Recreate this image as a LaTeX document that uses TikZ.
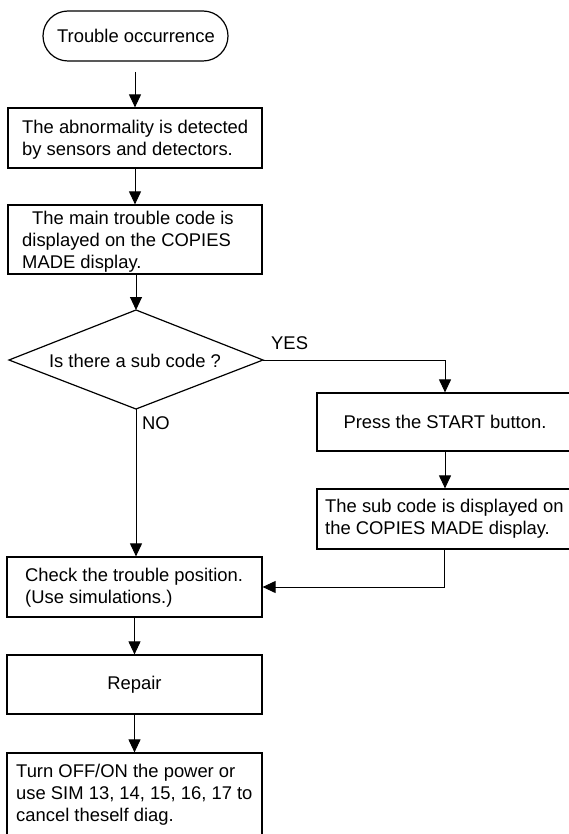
\documentclass[tikz,border=0pt]{standalone}
\usepackage{fontspec}
\setmainfont{Liberation Sans}
\usetikzlibrary{arrows.meta}
\begin{document}
\begin{tikzpicture}[x=1pt,y=-1pt,
  box/.style={draw,line width=1.2pt,inner sep=0pt},
  txt/.style={font=\fontsize{18.4}{22}\selectfont,inner sep=0pt,align=left},
  lbl/.style={font=\fontsize{18.4}{22}\selectfont,inner sep=0pt},
  flow/.style={line width=1pt,-{Triangle[length=13pt,width=12pt]}},
  plain/.style={line width=1.2pt}]
\useasboundingbox (0,0) rectangle (569,834);
\clip (0,0) rectangle (569,834);
% terminal
\node[box,rounded corners=25pt,minimum width=185,minimum height=50] (term) at (135.5,36) {};
\node[lbl] (termt) at (136,36) {Trouble occurrence};
% box 1
\node[box,minimum width=254,minimum height=60] (b1) at (135,138) {};
\node[txt,anchor=west] (b1t) at (22,140) {The abnormality is detected\\by sensors and detectors.};
% box 2
\node[box,minimum width=254,minimum height=69] (b2) at (135,239.5) {};
\node[txt,anchor=west] (b2t) at (22,242) {\hspace{10pt}The main trouble code is\\displayed on the COPIES\\MADE display.};
% diamond
\coordinate (dN) at (136,310);
\coordinate (dS) at (136,409);
\coordinate (dW) at (9,360);
\coordinate (dE) at (263,360);
\draw[plain] (dN) -- (dE) -- (dS) -- (dW) -- cycle;
\node[lbl] (dt) at (135,361) {Is there a sub code ?};
\node[lbl,anchor=west] (yes) at (271,343) {YES};
\node[lbl,anchor=west] (no) at (142,423) {NO};
% right boxes
\node[box,minimum width=256,minimum height=58] (press) at (445,422) {};
\node[lbl] (presst) at (445,422) {Press the START button.};
\node[box,minimum width=256,minimum height=60] (sub) at (445,519) {};
\node[txt,anchor=west] (subt) at (325,519) {The sub code is displayed on\\the COPIES MADE display.};
% check
\node[box,minimum width=255,minimum height=60] (chk) at (134.5,587) {};
\node[txt,anchor=west] (chkt) at (25,588) {Check the trouble position.\\(Use simulations.)};
% repair
\node[box,minimum width=255,minimum height=59] (rep) at (134.5,684.5) {};
\node[lbl] (rept) at (134.5,685) {Repair};
% final
\node[box,minimum width=255,minimum height=100] (fin) at (134.5,803) {};
\node[txt,anchor=west] (fint) at (16,795) {Turn OFF/ON the power or\\use SIM 13, 14, 15, 16, 17 to\\cancel theself diag.};
% connectors
\coordinate (tstart) at (135,72);
\draw[flow] (tstart) -- (b1.north);
\draw[flow] (b1.south) -- (b2.north);
\draw[flow] (b2.south -| dN) -- (dN);
\draw[flow] (dS) -- (dS |- chk.north);
\coordinate (yturn) at (445,360);
\draw[flow] (dE) -- (yturn) -- (press.north);
\draw[flow] (press.south) -- (sub.north);
\coordinate (sturn) at (444,587);
\draw[flow] (sub.south -| sturn) -- (sturn) -- (chk.east);
\draw[flow] (chk.south) -- (rep.north);
\draw[flow] (rep.south) -- (fin.north);
\end{tikzpicture}
\end{document}
